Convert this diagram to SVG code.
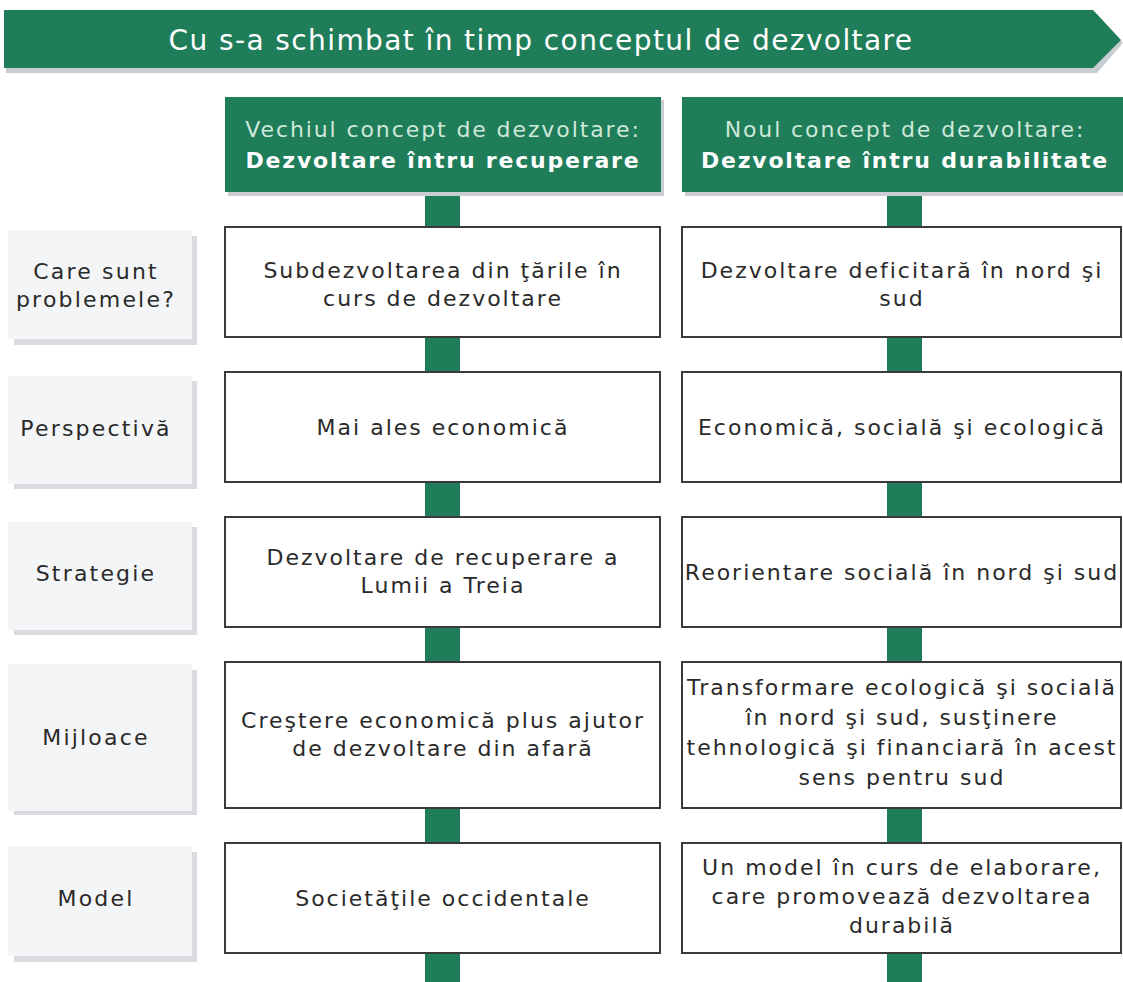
<svg xmlns="http://www.w3.org/2000/svg" width="1123" height="982" viewBox="0 0 1123 982">
<style>
.t{font-family:"DejaVu Sans","Liberation Sans",sans-serif;text-anchor:middle}
.box{fill:#ffffff;stroke:#3a3a3a;stroke-width:2}
.lbl{fill:#f4f5f7}
.lsh{fill:#d9dbe0}
.green{fill:#1f7d5a}
.gsh{fill:#c9ccd0}
.body{font-size:22px;fill:#2a2a2a;letter-spacing:2px}
.lab{font-size:22px;fill:#2a2a2a;letter-spacing:2.2px}
.h1{font-size:22px;fill:#cfe8d9;letter-spacing:1.9px}
.h2{font-size:22px;fill:#ffffff;font-weight:bold;letter-spacing:1.8px}
.ttl{font-size:28px;fill:#ffffff;letter-spacing:1.4px}
</style>
<rect width="1123" height="982" fill="#ffffff"/>
<g id="connectors">
<rect class="green" x="425" y="190" width="35" height="792"/>
<rect class="green" x="887" y="190" width="35" height="792"/>
</g>
<g id="banner">
<polygon class="gsh" points="6,14 1097,14 1123,43 1097,73 6,73"/>
<polygon class="green" points="4,10 1093,10 1121,40 1093,68 4,68"/>
<text class="t ttl" x="541" y="50">Cu s-a schimbat în timp conceptul de dezvoltare</text>
</g>
<g id="header-old">
<rect class="gsh" x="228" y="100" width="436" height="96"/>
<rect class="green" x="225" y="97" width="436" height="95"/>
<text class="t h1" x="443" y="137">Vechiul concept de dezvoltare:</text>
<text class="t h2" x="443" y="168">Dezvoltare întru recuperare</text>
</g>
<g id="header-new">
<rect class="gsh" x="685" y="100" width="438" height="96"/>
<rect class="green" x="682" y="97" width="441" height="95"/>
<text class="t h1" x="905" y="137">Noul concept de dezvoltare:</text>
<text class="t h2" x="905" y="168">Dezvoltare întru durabilitate</text>
</g>
<g id="label-probleme">
<rect class="lsh" x="14" y="236" width="183" height="109"/>
<rect class="lbl" x="8" y="230" width="184" height="109"/>
<text class="t lab" x="96" y="279">Care sunt</text>
<text class="t lab" x="96" y="307">problemele?</text>
</g>
<g id="label-perspectiva">
<rect class="lsh" x="14" y="381" width="183" height="108"/>
<rect class="lbl" x="8" y="376" width="184" height="108"/>
<text class="t lab" x="96" y="436">Perspectivă</text>
</g>
<g id="label-strategie">
<rect class="lsh" x="14" y="527" width="183" height="108"/>
<rect class="lbl" x="8" y="522" width="184" height="108"/>
<text class="t lab" x="96" y="581">Strategie</text>
</g>
<g id="label-mijloace">
<rect class="lsh" x="14" y="670" width="183" height="145"/>
<rect class="lbl" x="8" y="664" width="184" height="147"/>
<text class="t lab" x="96" y="745">Mijloace</text>
</g>
<g id="label-model">
<rect class="lsh" x="14" y="852" width="183" height="110"/>
<rect class="lbl" x="8" y="846" width="184" height="110"/>
<text class="t lab" x="96" y="906">Model</text>
</g>
<g id="old-probleme">
<rect class="box" x="225" y="227" width="435" height="110"/>
<text class="t body" x="443" y="278">Subdezvoltarea din ţările în</text>
<text class="t body" x="443" y="306">curs de dezvoltare</text>
</g>
<g id="new-probleme">
<rect class="box" x="682" y="227" width="439" height="110"/>
<text class="t body" x="902" y="278">Dezvoltare deficitară în nord şi</text>
<text class="t body" x="902" y="306">sud</text>
</g>
<g id="old-perspectiva">
<rect class="box" x="225" y="372" width="435" height="110"/>
<text class="t body" x="443" y="435">Mai ales economică</text>
</g>
<g id="new-perspectiva">
<rect class="box" x="682" y="372" width="439" height="110"/>
<text class="t body" x="902" y="435">Economică, socială şi ecologică</text>
</g>
<g id="old-strategie">
<rect class="box" x="225" y="517" width="435" height="110"/>
<text class="t body" x="443" y="565">Dezvoltare de recuperare a</text>
<text class="t body" x="443" y="593">Lumii a Treia</text>
</g>
<g id="new-strategie">
<rect class="box" x="682" y="517" width="439" height="110"/>
<text class="t body" x="902" y="580">Reorientare socială în nord şi sud</text>
</g>
<g id="old-mijloace">
<rect class="box" x="225" y="662" width="435" height="146"/>
<text class="t body" x="443" y="728">Creştere economică plus ajutor</text>
<text class="t body" x="443" y="756">de dezvoltare din afară</text>
</g>
<g id="new-mijloace">
<rect class="box" x="682" y="662" width="439" height="146"/>
<text class="t body" x="902" y="695">Transformare ecologică şi socială</text>
<text class="t body" x="902" y="725">în nord şi sud, susţinere</text>
<text class="t body" x="902" y="755">tehnologică şi financiară în acest</text>
<text class="t body" x="902" y="785">sens pentru sud</text>
</g>
<g id="old-model">
<rect class="box" x="225" y="843" width="435" height="110"/>
<text class="t body" x="443" y="906">Societăţile occidentale</text>
</g>
<g id="new-model">
<rect class="box" x="682" y="843" width="439" height="110"/>
<text class="t body" x="902" y="875">Un model în curs de elaborare,</text>
<text class="t body" x="902" y="904">care promovează dezvoltarea</text>
<text class="t body" x="902" y="933">durabilă</text>
</g>
</svg>
